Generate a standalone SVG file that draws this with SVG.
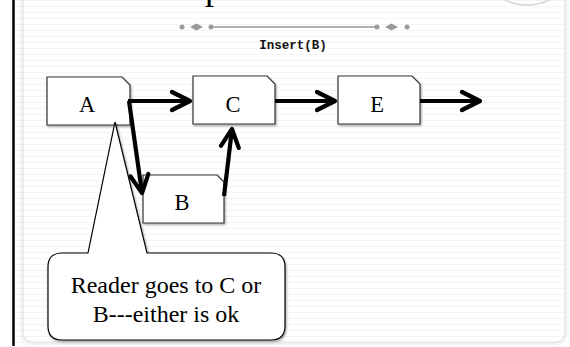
<svg xmlns="http://www.w3.org/2000/svg" width="570" height="347" viewBox="0 0 570 347">
<style>
.box{fill:#fff;stroke:#333;stroke-width:1.2;filter:url(#sh)}
.lbl{font-family:"Liberation Serif",serif;font-size:22.5px;fill:#000;text-anchor:middle}
.conn{fill:none;stroke:#000;stroke-width:4.2;marker-end:url(#chev)}
.div{fill:#9a9a9a}
</style>
<defs>
<filter id="sh" x="-20%" y="-20%" width="140%" height="140%">
<feDropShadow dx="1" dy="1.5" stdDeviation="1" flood-color="#000" flood-opacity="0.35"/>
</filter>
<filter id="psh" x="-10%" y="-10%" width="120%" height="120%">
<feDropShadow dx="0" dy="1" stdDeviation="2" flood-color="#000" flood-opacity="0.12"/>
</filter>
<pattern id="lines" width="10" height="6" patternUnits="userSpaceOnUse">
<rect width="10" height="6" fill="#fff"/>
<rect y="0" width="10" height="1" fill="#f4f4f4"/>
</pattern>
<marker id="chev" viewBox="-24 -14 28 28" markerWidth="28" markerHeight="28" refX="0" refY="0" orient="auto" markerUnits="userSpaceOnUse">
<path d="M -18,-9 L 0,0 L -18,9" fill="none" stroke="#000" stroke-width="4.2" stroke-linecap="round" stroke-linejoin="round"/>
</marker>
</defs>
<rect width="570" height="347" fill="#fff"/>
<rect x="14" y="0" width="10" height="347" fill="url(#lines)"/>
<rect x="23" y="-10" width="542" height="352" rx="9" fill="url(#lines)" stroke="#e2e2e2" stroke-width="1.2" filter="url(#psh)"/>
<line x1="13.5" y1="0" x2="13.5" y2="346" stroke="#000" stroke-width="2.5"/>
<circle cx="527" cy="-45" r="50" fill="none" stroke="#d6d6d6" stroke-width="1.5"/>
<text x="205" y="-1" font-family="Liberation Serif,serif" font-size="36" fill="#000">p</text>
<g id="divider">
<line x1="211" y1="27" x2="377" y2="27" stroke="#9a9a9a" stroke-width="1.3"/>
<circle class="div" cx="182" cy="27" r="2.5"/>
<circle class="div" cx="211" cy="27" r="2.5"/>
<circle class="div" cx="377" cy="27" r="2.5"/>
<circle class="div" cx="407" cy="27" r="2.5"/>
<path class="div" d="M190,27 L196.5,23.5 L203,27 L196.5,30.5 Z"/>
<path class="div" d="M385,27 L391.5,23.5 L398,27 L391.5,30.5 Z"/>
</g>
<text x="293" y="49" font-family="Liberation Mono,monospace" font-size="12.5" font-weight="bold" text-anchor="middle" fill="#111">Insert(B)</text>
<g id="A">
<path class="box" d="M47,77 L122,77 L130,85 L130,125 L47,125 Z"/>
<text class="lbl" x="87" y="112">A</text>
</g>
<g id="C">
<path class="box" d="M193,76 L267,76 L275,84 L275,124 L193,124 Z"/>
<text class="lbl" x="233" y="112">C</text>
</g>
<g id="E">
<path class="box" d="M338,76 L412,76 L420,84 L420,124 L338,124 Z"/>
<text class="lbl" x="377" y="112">E</text>
</g>
<g id="B">
<path class="box" d="M143,175 L217,175 L224,182 L224,223 L143,223 Z"/>
<text class="lbl" x="182" y="210">B</text>
</g>
<g id="connectors">
<line class="conn" x1="128" y1="101" x2="190" y2="101"/>
<line class="conn" x1="275" y1="101" x2="335" y2="101"/>
<line class="conn" x1="420" y1="101" x2="480" y2="101"/>
<line class="conn" x1="129" y1="101" x2="142" y2="193"/>
<line class="conn" x1="224" y1="196" x2="232" y2="129"/>
</g>
<g id="callout">
<path d="M62,253 L88,253 L115,122 L147,253 L271,253 Q285,253 285,267 L285,326 Q285,340 271,340 L62,340 Q48,340 48,326 L48,267 Q48,253 62,253 Z" fill="#fff" stroke="#000" stroke-width="1.2" filter="url(#sh)"/>
<text x="166" y="293" font-family="Liberation Serif,serif" font-size="24" text-anchor="middle" fill="#000">Reader goes to C or</text>
<text x="166" y="322" font-family="Liberation Serif,serif" font-size="24" text-anchor="middle" fill="#000">B---either is ok</text>
</g>
</svg>
